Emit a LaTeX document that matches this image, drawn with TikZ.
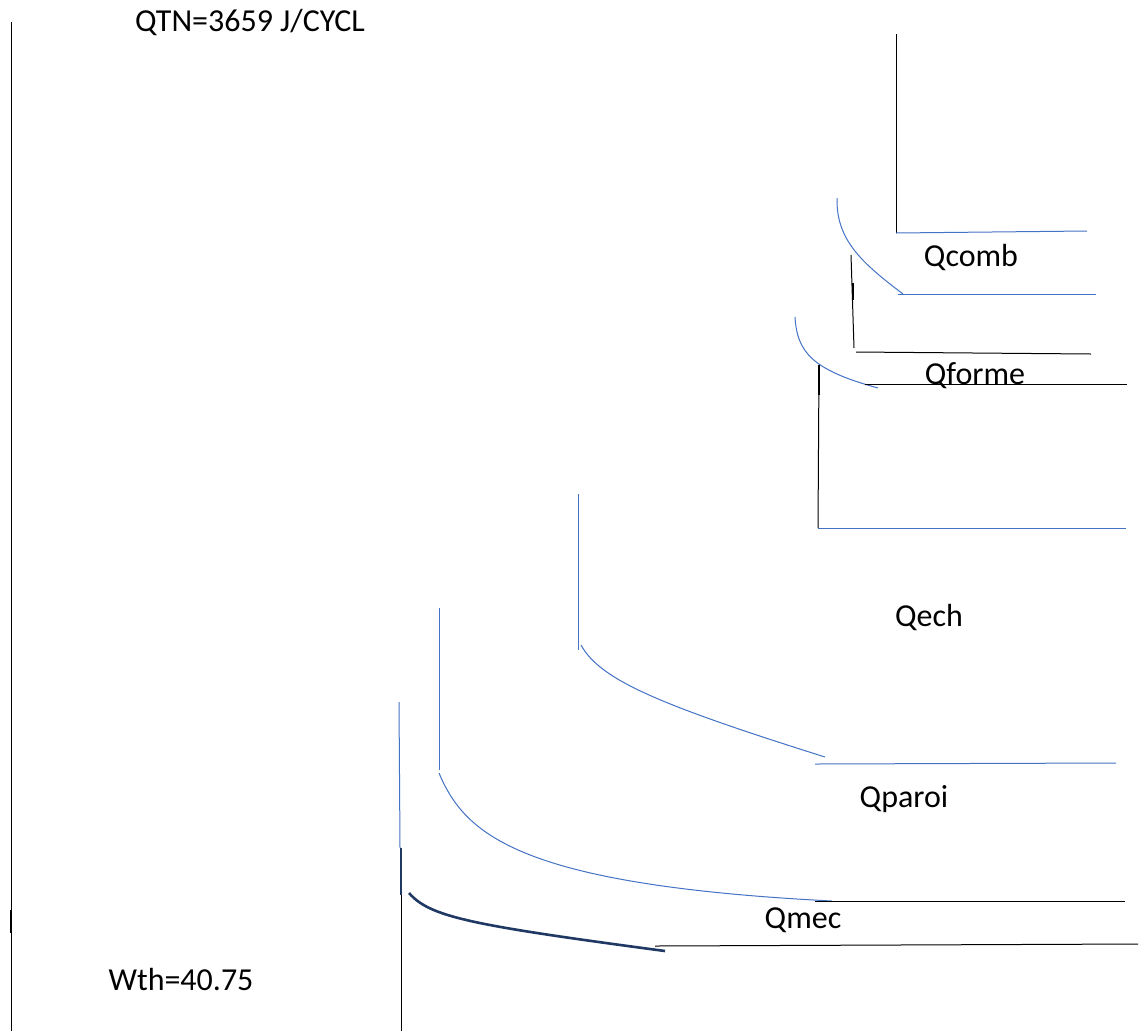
\documentclass[tikz,border=0pt]{standalone}
\usepackage{fontspec}
\setmainfont{Carlito}
\definecolor{lblue}{RGB}{68,114,196}
\definecolor{navy}{RGB}{31,56,100}
\tikzset{
  thinblk/.style={draw=black,line width=1pt},
  thinblu/.style={draw=lblue,line width=1pt},
  thicknavy/.style={draw=navy,line width=2.6pt},
  lbl/.style={inner sep=0pt,font=\fontsize{32}{38}\selectfont}
}
\begin{document}
\begin{tikzpicture}[x=1pt,y=-1pt]
\useasboundingbox[fill=white] (0,0) rectangle (1147,1031);
% left axis
\draw[thinblk] (11,22) -- (11,1031);
\draw[draw=black,line width=1.8pt] (11,910) -- (11,933);
% texts
\node[lbl] (qtn) at (250,23) {QTN=3659 J/CYCL};
\node[lbl] (wth) at (181,979) {Wth=40.75};
\node[lbl] (qcomb) at (971,258) {Qcomb};
\node[lbl] (qforme) at (975,376) {Qforme};
\node[lbl] (qech) at (929,617) {Qech};
\node[lbl] (qparoi) at (904,799) {Qparoi};
\node[lbl] (qmec) at (803,920) {Qmec};
% top-right step
\draw[thinblk] (896,34) -- (896,233);
\draw[thinblu] (896,233) -- (1087,231);
% curve 1
\draw[thinblu] (837,198) .. controls (836,240) and (862,263) .. (903,294);
\draw[thinblu] (898,294) -- (1096,294);
% black vertical / horizontal
\draw[thinblk] (851,255) -- (854,348);
\draw[draw=black,line width=1.6pt] (853,283) -- (853,300);
\draw[thinblk] (856,352) -- (1091,354);
% curve 2
\draw[thinblu] (795,317) .. controls (797,352) and (812,370) .. (878,388);
\draw[thinblk] (865,384) -- (1127,384);
% box below Qforme
\draw[thinblk] (819,365) -- (818,528);
\draw[draw=black,line width=1.6pt] (819,365) -- (819,395);
\draw[thinblu] (818,528) -- (1126,528);
% curve 3
\draw[thinblu] (578,494) -- (578,650);
\draw[thinblu] (581,645) .. controls (600,680) and (660,705) .. (825,757);
\draw[thinblu] (815,764) -- (1116,763);
% curve 4
\draw[thinblu] (439,608) -- (439,770);
\draw[thinblu] (439,773) .. controls (465,835) and (520,885) .. (832,901);
\draw[thinblk] (815,901) -- (1125,901);
% curve 5
\draw[thinblu] (399,702) -- (400,848);
\draw[thinblk] (401,848) -- (401,1031);
\draw[draw=navy,line width=1.4pt] (401,848) -- (401,895);
\draw[thicknavy] (409,893) .. controls (430,917) and (470,925) .. (665,951);
\draw[thinblk] (655,946) -- (1138,944);
\end{tikzpicture}
\end{document}
